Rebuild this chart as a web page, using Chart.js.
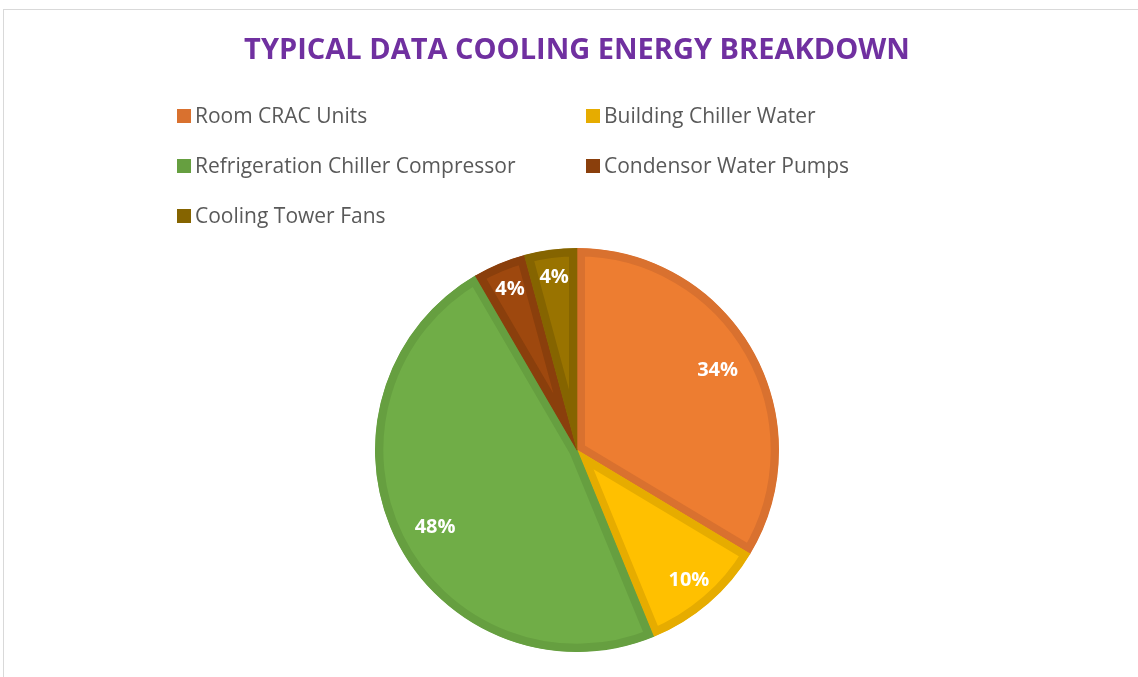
<!DOCTYPE html>
<html><head><meta charset="utf-8">
<script src="https://cdn.jsdelivr.net/npm/chart.js@4/dist/chart.umd.min.js"></script>
<style>
html,body{margin:0;padding:0;background:#fff;overflow:hidden}
#wrap{position:relative;width:1138px;height:677px}
#frame{position:absolute;left:3px;top:9px;right:0;bottom:-5px;border-top:1px solid #d9d9d9;border-left:1px solid #d9d9d9}
canvas{position:absolute;left:0;top:0}
</style></head>
<body><div id="wrap"><div id="frame"></div><canvas id="c" width="1138" height="677"></canvas></div>
<script>
const chartTitle = 'TYPICAL DATA COOLING ENERGY BREAKDOWN';
const categories = ['Room CRAC Units', 'Building Chiller Water', 'Refrigeration Chiller Compressor', 'Condensor Water Pumps', 'Cooling Tower Fans'];
const values = [33.6, 10.2, 47.8, 4.2, 4.2];
const fillColors = ['#ED7D31', '#FFC000', '#70AD47', '#9E480E', '#997300'];
const borderColors = ['#D9712F', '#E6AC00', '#669F40', '#8A3F0C', '#856400'];

const titlePlugin = {
  id: 'customTitle',
  afterDraw(chart) {
    const ctx = chart.ctx;
    ctx.save();
    ctx.fillStyle = '#7030A0';
    ctx.font = 'bold 29px "Open Sans"';
    ctx.textAlign = 'center';
    ctx.textBaseline = 'middle';
    ctx.fillText(chartTitle, 577, 51);
    ctx.restore();
  }
};

const legendPlugin = {
  id: 'gridLegend',
  afterDraw(chart) {
    const ctx = chart.ctx;
    const colX = [177, 586];
    const rowY = [116, 166, 216];
    ctx.save();
    ctx.font = '21px "Open Sans"';
    ctx.textBaseline = 'middle';
    categories.forEach((name, i) => {
      const x = colX[i % 2], y = rowY[Math.floor(i / 2)];
      ctx.fillStyle = borderColors[i];
      ctx.fillRect(x, y - 7, 14, 14);
      ctx.fillStyle = '#595959';
      ctx.fillText(name, x + 18, y + 1);
    });
    ctx.restore();
  }
};

const labelPlugin = {
  id: 'sliceLabels',
  afterDatasetsDraw(chart) {
    const ctx = chart.ctx;
    const meta = chart.getDatasetMeta(0);
    const total = values.reduce((a, b) => a + b, 0);
    ctx.save();
    ctx.fillStyle = '#ffffff';
    ctx.font = 'bold 20px "Open Sans"';
    ctx.textAlign = 'center';
    ctx.textBaseline = 'middle';
    meta.data.forEach((arc, i) => {
      const p = arc.getProps(['x', 'y', 'startAngle', 'endAngle', 'outerRadius'], true);
      let mid = (p.startAngle + p.endAngle) / 2;
      if (values[i] > 40) mid -= 0.04;
      const f = values[i] < 6 ? 0.86 : (values[i] < 20 ? 0.85 : 0.8);
      const r = p.outerRadius * f;
      const txt = Math.round(values[i] / total * 100) + '%';
      ctx.fillText(txt, p.x + Math.cos(mid) * r, p.y + Math.sin(mid) * r);
    });
    ctx.restore();
  }
};

new Chart(document.getElementById('c'), {
  type: 'pie',
  data: {
    labels: categories,
    datasets: [{
      data: values,
      backgroundColor: fillColors,
      borderColor: borderColors,
      borderWidth: 8,
      borderAlign: 'inner',
      hoverOffset: 0
    }]
  },
  options: {
    responsive: false,
    animation: false,
    radius: 202,
    layout: { padding: { left: 375, right: 359, top: 248, bottom: 25 } },
    plugins: {
      legend: { display: false },
      title: { display: false },
      tooltip: { enabled: false }
    },
    events: []
  },
  plugins: [titlePlugin, legendPlugin, labelPlugin]
});
</script>
</body></html>
